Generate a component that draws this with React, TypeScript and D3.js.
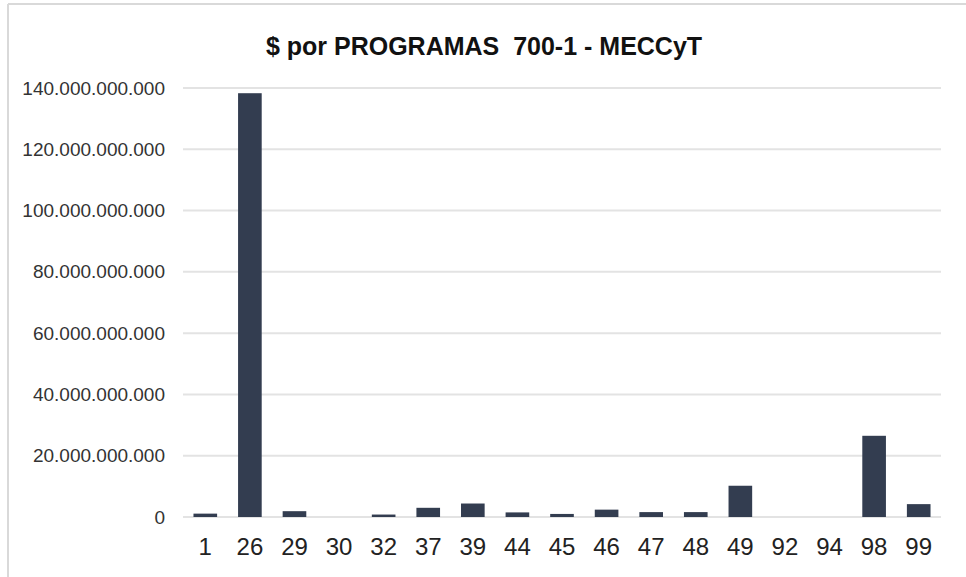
import React, { useRef, useEffect } from 'react';
import * as d3 from 'd3';

const programs = ['1', '26', '29', '30', '32', '37', '39', '44', '45', '46', '47', '48', '49', '92', '94', '98', '99'];
const amounts = [1.1e9, 138.3e9, 1.9e9, 0, 0.8e9, 3.0e9, 4.4e9, 1.5e9, 1.0e9, 2.4e9, 1.6e9, 1.6e9, 10.2e9, 0, 0, 26.5e9, 4.2e9];
const yTicks = [0, 20e9, 40e9, 60e9, 80e9, 100e9, 120e9, 140e9];

const fmt = (v: number) => d3.format(',')(v).replace(/,/g, '.');

const App: React.FC = () => {
  const ref = useRef<SVGSVGElement>(null);

  useEffect(() => {
    const width = 966;
    const height = 577;
    const margin = { top: 88, right: 25, bottom: 60, left: 183 };

    const svg = d3.select(ref.current);
    svg.selectAll('*').remove();
    svg.attr('width', width).attr('height', height);

    svg.append('rect').attr('width', width).attr('height', height).attr('fill', '#fff');
    // chart frame
    svg.append('line').attr('x1', 8).attr('x2', width).attr('y1', 4).attr('y2', 4)
      .attr('stroke', '#d9d9d9').attr('stroke-width', 2);
    svg.append('line').attr('x1', 8).attr('x2', 8).attr('y1', 4).attr('y2', height)
      .attr('stroke', '#d9d9d9').attr('stroke-width', 2);

    const x = d3.scaleBand().domain(programs).range([margin.left, 941]).paddingInner(0.47).paddingOuter(0.235);
    const y = d3.scaleLinear().domain([0, 140e9]).range([517, margin.top]);

    svg.append('text')
      .attr('x', 484).attr('y', 55)
      .attr('text-anchor', 'middle')
      .attr('font-family', 'Liberation Sans, Arial, sans-serif')
      .attr('font-weight', 'bold')
      .attr('font-size', 25)
      .attr('fill', '#111')
      .style('white-space', 'pre')
      .text('$ por PROGRAMAS  700-1 - MECCyT');

    const grid = svg.append('g');
    grid.selectAll('line').data(yTicks).join('line')
      .attr('x1', margin.left).attr('x2', 941)
      .attr('y1', d => y(d)).attr('y2', d => y(d))
      .attr('stroke', '#e3e3e3').attr('stroke-width', 2);

    const yAxis = svg.append('g').attr('transform', `translate(${margin.left - 18},0)`)
      .call(d3.axisLeft(y).tickValues(yTicks).tickFormat(d => fmt(+d)).tickSize(0).tickPadding(0));
    yAxis.select('.domain').remove();
    yAxis.selectAll('text')
      .attr('font-family', 'Liberation Sans, Arial, sans-serif')
      .attr('font-size', 19)
      .attr('fill', '#333');

    svg.append('g').selectAll('rect')
      .data(amounts)
      .join('rect')
      .attr('x', (_, i) => x(programs[i])!)
      .attr('width', x.bandwidth())
      .attr('y', d => y(d))
      .attr('height', d => 517 - y(d))
      .attr('fill', '#333d50');

    const xAxis = svg.append('g').attr('transform', 'translate(0,517)')
      .call(d3.axisBottom(x).tickSize(0).tickPadding(21));
    xAxis.select('.domain').remove();
    xAxis.selectAll('text')
      .attr('font-family', 'Liberation Sans, Arial, sans-serif')
      .attr('font-size', 24)
      .attr('fill', '#222');
  }, []);

  return <svg ref={ref} style={{ position: 'absolute', top: 0, left: 0, display: 'block' }}></svg>;
};

export default App;
